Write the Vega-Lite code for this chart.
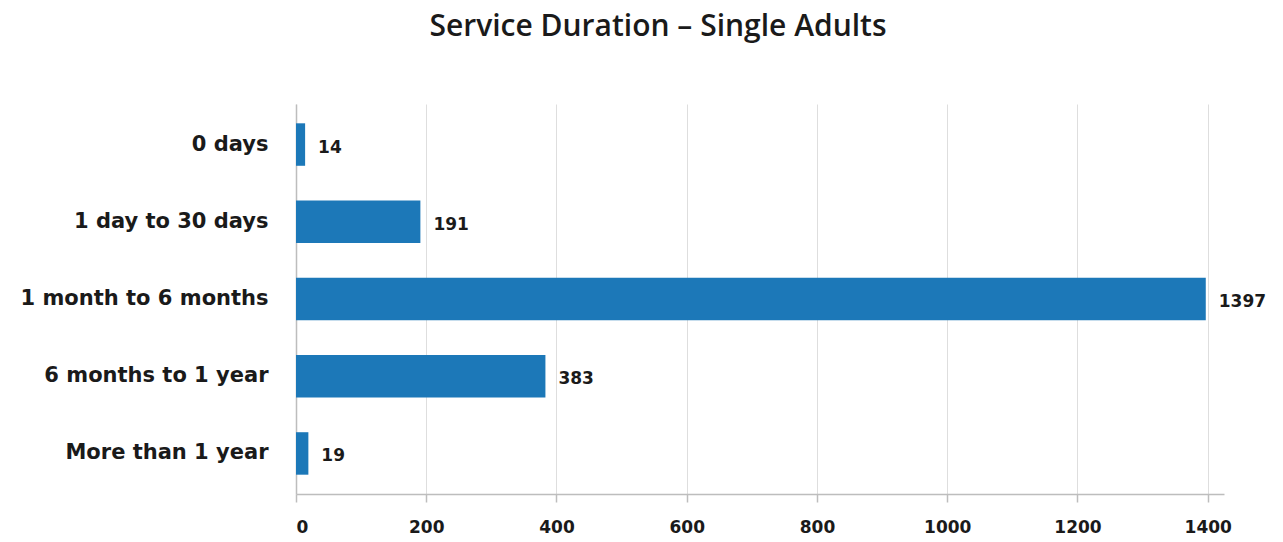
{
  "$schema": "https://vega.github.io/schema/vega-lite/v6.json",
  "autosize": "none",
  "width": 928,
  "height": 390,
  "padding": {"left": 296, "top": 104, "right": 59, "bottom": 48},
  "background": "white",
  "title": {
    "text": "Service Duration – Single Adults",
    "font": "Open Sans",
    "fontSize": 30,
    "fontWeight": 600,
    "color": "#1a1a1a",
    "anchor": "middle",
    "dx": -102,
    "offset": 62
  },
  "data": {
    "values": [
      {"duration": "0 days", "count": 14},
      {"duration": "1 day to 30 days", "count": 191},
      {"duration": "1 month to 6 months", "count": 1397},
      {"duration": "6 months to 1 year", "count": 383},
      {"duration": "More than 1 year", "count": 19}
    ]
  },
  "encoding": {
    "y": {
      "field": "duration",
      "type": "nominal",
      "sort": null,
      "title": null,
      "scale": {"paddingInner": 0.45, "paddingOuter": 0.25},
      "axis": {
        "ticks": false,
        "domainColor": "#bdbdbd",
        "domainWidth": 1.5,
        "labelFont": "DejaVu Sans",
        "labelFontSize": 21,
        "labelFontWeight": "bold",
        "labelColor": "#1a1a1a",
        "labelPadding": 28,
        "labelLimit": 400
      }
    },
    "x": {
      "field": "count",
      "type": "quantitative",
      "title": null,
      "scale": {"domain": [0, 1425], "nice": false},
      "axis": {
        "values": [0, 200, 400, 600, 800, 1000, 1200, 1400],
        "format": "d",
        "grid": true,
        "gridColor": "#dedede",
        "gridWidth": 1,
        "domainColor": "#bdbdbd",
        "domainWidth": 1.5,
        "tickColor": "#bdbdbd",
        "tickSize": 8,
        "tickWidth": 1.5,
        "labelFont": "DejaVu Sans",
        "labelFontSize": 17,
        "labelFontWeight": "bold",
        "labelColor": "#1a1a1a",
        "labelPadding": 17
      }
    }
  },
  "layer": [
    {
      "mark": {"type": "bar", "color": "#1c78b8"}
    },
    {
      "mark": {
        "type": "text",
        "align": "left",
        "baseline": "middle",
        "dx": 13,
        "dy": 3,
        "font": "DejaVu Sans",
        "fontSize": 17,
        "fontWeight": "bold",
        "color": "#1a1a1a"
      },
      "encoding": {"text": {"field": "count", "type": "quantitative"}}
    }
  ],
  "config": {"view": {"stroke": null}}
}
